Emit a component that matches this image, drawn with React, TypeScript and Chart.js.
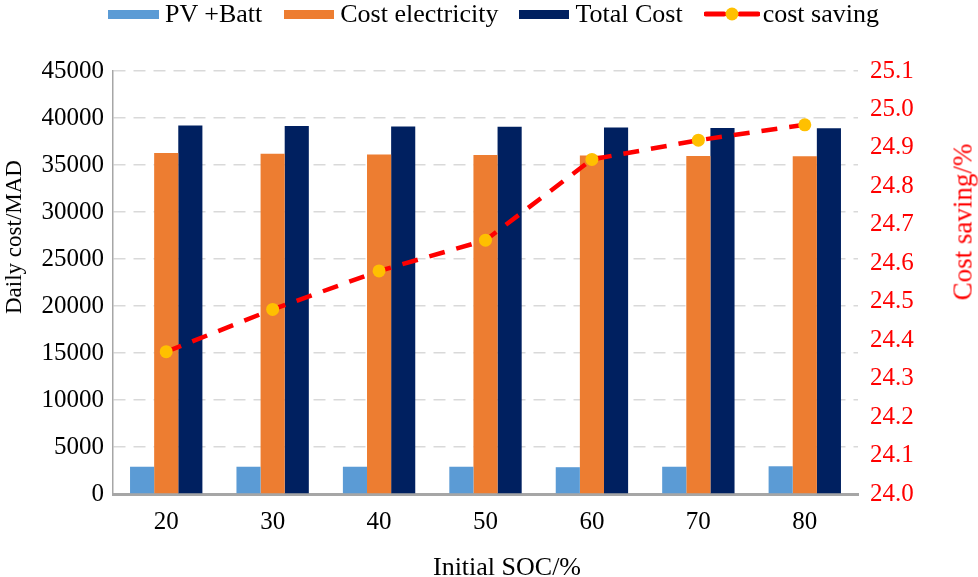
import React, { useEffect, useRef } from "react";
import { Chart, registerables } from "chart.js";

Chart.register(...registerables);

const socLabels = ["20", "30", "40", "50", "60", "70", "80"];
const pvBatt = [2900, 2900, 2900, 2900, 2850, 2900, 2950];
const costElectricity = [36280, 36200, 36130, 36060, 36000, 35970, 35930];
const totalCost = [39210, 39150, 39100, 39070, 39000, 38940, 38900];
const costSaving = [24.37, 24.48, 24.58, 24.66, 24.87, 24.92, 24.96];

const FONT = "'Liberation Serif', 'Times New Roman', serif";
const BLUE = "#5B9BD5";
const ORANGE = "#ED7D31";
const NAVY = "#002060";
const RED = "#FF0000";
const YELLOW = "#FFC000";

export default function App() {
  const ref = useRef<HTMLCanvasElement | null>(null);

  useEffect(() => {
    if (!ref.current) return;
    const chart = new Chart(ref.current, {
      type: "bar",
      data: {
        labels: socLabels,
        datasets: [
          {
            type: "line",
            label: "cost saving",
            data: costSaving,
            yAxisID: "y1",
            borderColor: RED,
            borderWidth: 4.5,
            borderDash: [16, 12],
            pointBackgroundColor: YELLOW,
            pointBorderWidth: 0,
            pointRadius: 6.5,
            fill: false,
            tension: 0,
            order: 0,
          } as any,
          {
            label: "PV +Batt",
            data: pvBatt,
            backgroundColor: BLUE,
            yAxisID: "y",
            order: 1,
          },
          {
            label: "Cost electricity",
            data: costElectricity,
            backgroundColor: ORANGE,
            yAxisID: "y",
            order: 1,
          },
          {
            label: "Total Cost",
            data: totalCost,
            backgroundColor: NAVY,
            yAxisID: "y",
            order: 1,
          },
        ],
      },
      options: {
        animation: false,
        responsive: true,
        maintainAspectRatio: false,
        layout: { padding: { top: 71, left: 0, right: 0, bottom: 0 } },
        datasets: {
          bar: { categoryPercentage: 0.68, barPercentage: 1 },
        },
        plugins: {
          legend: { display: false },
          tooltip: { enabled: false },
        },
        scales: {
          x: {
            grid: { display: false, drawTicks: false },
            border: { display: true, color: "#A6A6A6", width: 3 },
            ticks: {
              color: "#000",
              font: { family: FONT, size: 25 },
              padding: 13,
            },
            afterFit: (s: any) => {
              s.height = 83;
            },
          },
          y: {
            position: "left",
            min: 0,
            max: 45000,
            grid: {
              color: "#D9D9D9",
              lineWidth: 1.5,
              drawTicks: false,
            },
            border: { display: true, color: "#A6A6A6", width: 1.5, dash: [12, 8] } as any,
            ticks: {
              stepSize: 5000,
              color: "#000",
              font: { family: FONT, size: 25 },
              padding: 9,
              callback: (v: any) => String(v),
            },
            afterFit: (s: any) => {
              s.width = 113;
            },
          },
          y1: {
            position: "right",
            min: 24.0,
            max: 25.1,
            grid: { display: false, drawTicks: false },
            border: { display: false },
            ticks: {
              stepSize: 0.1,
              color: RED,
              font: { family: FONT, size: 25 },
              padding: 12,
              callback: (v: any) => Number(v).toFixed(1),
            },
            afterFit: (s: any) => {
              s.width = 120;
            },
          },
        },
      },
    });
    return () => chart.destroy();
  }, []);

  const legendText: React.CSSProperties = {
    fontFamily: FONT,
    fontSize: 26,
    lineHeight: "28px",
    color: "#000",
    whiteSpace: "nowrap",
  };
  const box = (c: string, w: number): React.CSSProperties => ({
    display: "inline-block",
    width: w,
    height: 9,
    background: c,
    marginRight: 6,
  });

  return (
    <div
      style={{
        position: "fixed",
        left: 0,
        top: 0,
        width: 978,
        height: 577,
        background: "#fff",
        overflow: "hidden",
      }}
    >
      <canvas ref={ref} />
      <div
        style={{
          position: "absolute",
          left: 108,
          top: 0,
          height: 28,
          display: "flex",
          alignItems: "center",
        }}
      >
        <span style={box(BLUE, 51)} />
        <span style={{ ...legendText, marginRight: 22 }}>PV +Batt</span>
        <span style={box(ORANGE, 50)} />
        <span style={{ ...legendText, marginRight: 21 }}>Cost electricity</span>
        <span style={box(NAVY, 50)} />
        <span style={{ ...legendText, marginRight: 21 }}>Total Cost</span>
        <svg width={56} height={16} style={{ marginRight: 3 }}>
          <line x1={2} y1={8} x2={20} y2={8} stroke={RED} strokeWidth={5} strokeLinecap="round" />
          <line x1={36} y1={8} x2={54} y2={8} stroke={RED} strokeWidth={5} strokeLinecap="round" />
          <circle cx={28} cy={8} r={6.5} fill={YELLOW} />
        </svg>
        <span style={legendText}>cost saving</span>
      </div>
      <div
        style={{
          position: "absolute",
          left: 14,
          top: 237,
          transform: "translate(-50%, -50%) rotate(-90deg)",
          fontFamily: FONT,
          fontSize: 23,
          color: "#000",
          whiteSpace: "nowrap",
        }}
      >
        Daily cost/MAD
      </div>
      <div
        style={{
          position: "absolute",
          left: 963,
          top: 222,
          transform: "translate(-50%, -50%) rotate(-90deg)",
          fontFamily: FONT,
          fontSize: 27,
          color: RED,
          whiteSpace: "nowrap",
        }}
      >
        Cost saving/%
      </div>
      <div
        style={{
          position: "absolute",
          left: 507,
          top: 567,
          transform: "translate(-50%, -50%)",
          fontFamily: FONT,
          fontSize: 26,
          color: "#000",
          whiteSpace: "nowrap",
        }}
      >
        Initial SOC/%
      </div>
    </div>
  );
}
